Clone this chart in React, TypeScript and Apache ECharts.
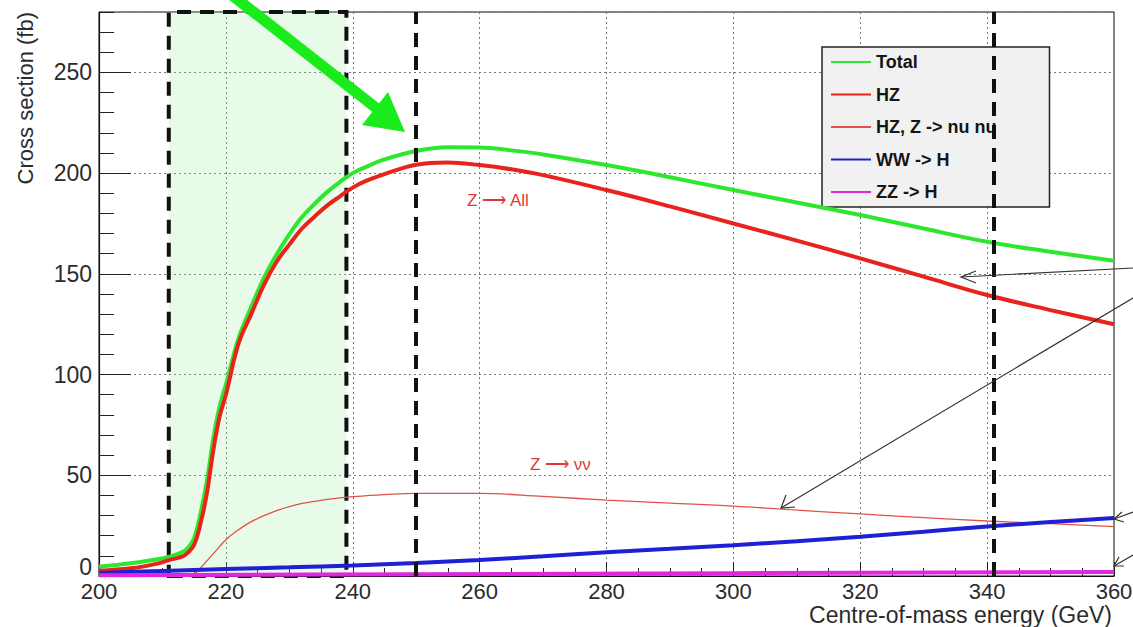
import { useEffect, useRef } from 'react';
import * as echarts from 'echarts';

// Centre-of-mass energy grid (GeV) for the total and HZ curves
const energy = [
  200, 205, 209, 211, 213, 214, 215, 216, 217, 218, 219, 220,
  222, 224, 226, 228, 230, 232, 234, 236, 238, 240,
  242, 245, 250, 255, 260, 265, 270,
  280, 290, 300, 310, 320, 330, 340, 350, 360,
];
// Cross sections in fb
const totalXsec = [
  4.6, 6.3, 8.2, 9.5, 11.6, 13.9, 18.8, 31, 47, 68, 84, 95,
  118, 133.6, 148, 159.6, 169.6, 178.2, 184.8, 190.7, 195.7, 200,
  203, 206.8, 211, 212.8, 212.7, 211.3, 209.3,
  204, 198, 191.6, 185.4, 179.2, 172.5, 165.9, 161, 156.5,
];
const hzXsec = [
  2.6, 3.8, 6, 7.9, 9.5, 11.5, 15.5, 26, 41, 62, 79, 90,
  115.5, 130, 144.5, 156, 164.5, 172.5, 178.5, 184, 188.5, 192.8,
  196, 199.5, 204.2, 205.3, 204, 201.9, 199,
  191.6, 183.5, 175, 166.5, 157.7, 148.6, 139.5, 132, 125,
];
const nunuEnergy = [
  215, 216, 218, 220, 222, 224, 226, 228, 230, 232,
  234, 236, 238, 240, 245, 250, 260, 270, 280, 290,
  300, 310, 320, 330, 340, 350, 360,
];
const nunuXsec = [
  0.5, 4, 11, 18, 23, 27, 30, 32.5, 34.5, 36,
  37, 38, 38.8, 39.4, 40.4, 41, 41, 39.5, 37.7, 36.2,
  34.7, 32.7, 30.8, 29, 27.3, 26, 24.5,
];
const wwEnergy = [200, 210, 220, 230, 240, 250, 260, 270, 280, 290, 300, 310, 320, 330, 340, 350, 360];
const wwXsec = [1.5, 2.5, 3.5, 4.3, 5.2, 6.5, 8, 9.8, 11.8, 13.5, 15.3, 17.3, 19.5, 22, 24.6, 26.8, 28.8];
const zzEnergy = [200, 250, 300, 360];
const zzXsec = [0.4, 0.9, 1.4, 2];

// Shaded scan window and reference energies
const windowRange = [211, 239];
const markerEnergies = [250, 341];

const legendNames = ['Total', 'HZ', 'HZ, Z -> nu nu', 'WW -> H', 'ZZ -> H'];

const pairs = (xs: number[], ys: number[]) => xs.map((x, i) => [x, ys[i]]);

const FONT = '"Liberation Sans", Arial, Helvetica, sans-serif';
const dash = [14, 9];

export default function App() {
  const ref = useRef<HTMLDivElement>(null);

  useEffect(() => {
    if (!ref.current) return;
    const chart = echarts.init(ref.current, null, { renderer: 'svg' });

    const lineSeries = (name: string, data: number[][], color: string, width: number, extra: any = {}) => ({
      name,
      type: 'line',
      data,
      showSymbol: false,
      symbol: 'none',
      smooth: 0.4,
      color,
      lineStyle: { color, width },
      z: 3,
      ...extra,
    });

    const arrow = (points: number[][]) => ({
      type: 'polyline',
      z: 100,
      shape: { points },
      style: { stroke: '#333', lineWidth: 1.2, fill: null },
    });

    chart.setOption({
      animation: false,
      backgroundColor: '#ffffff',
      grid: {
        left: 99,
        right: 19,
        top: 12,
        bottom: 51,
        outerBoundsMode: 'none',
        containLabel: false,
        show: true,
        borderColor: '#111',
        borderWidth: 1,
        backgroundColor: 'transparent',
      },
      legend: {
        data: legendNames,
        orient: 'vertical',
        left: 822,
        top: 47,
        z: 1,
        itemWidth: 40,
        itemHeight: 14,
        itemGap: 14.5,
        padding: [6, 53, 6, 8],
        backgroundColor: '#f1f1f1',
        borderColor: '#222',
        borderWidth: 1.5,
        borderRadius: 0,
        selectedMode: false,
        itemStyle: { opacity: 0 },
        textStyle: { fontFamily: FONT, fontSize: 18, fontWeight: 'bold', color: '#151515' },
      },
      xAxis: {
        type: 'value',
        min: 200,
        max: 360,
        interval: 20,
        axisLine: { show: true, lineStyle: { color: '#111', width: 1.2 } },
        axisTick: { show: true, inside: true, length: 14, lineStyle: { color: '#222' } },
        minorTick: { show: true, splitNumber: 4, length: 8, lineStyle: { color: '#222' } },
        axisLabel: { fontFamily: FONT, fontSize: 22, color: '#2b2b2b', margin: 4 },
        splitLine: { show: true, lineStyle: { color: '#777', type: [2, 3], width: 1 } },
      },
      yAxis: [
        {
          type: 'value',
          min: 0,
          max: 280,
          interval: 50,
          axisLine: { show: true, lineStyle: { color: '#111', width: 1.2 } },
          axisTick: { show: true, inside: true, length: 32, lineStyle: { color: '#222' } },
          axisLabel: {
            fontFamily: FONT,
            fontSize: 23,
            color: '#2b2b2b',
            margin: 7,
            showMaxLabel: false,
            formatter: (v: number) => (v === 0 ? '{zero|0}' : String(v)),
            rich: { zero: { fontFamily: FONT, fontSize: 23, color: '#2b2b2b', padding: [0, 0, 18, 0] } },
          },
          splitLine: { show: true, lineStyle: { color: '#777', type: [2, 3], width: 1 } },
        },
        {
          type: 'value',
          position: 'left',
          min: 0,
          max: 280,
          interval: 10,
          axisLine: { show: false },
          axisTick: { show: true, inside: true, length: 15, lineStyle: { color: '#222' } },
          axisLabel: { show: false },
          splitLine: { show: false },
        },
      ],
      series: [
        lineSeries('Total', pairs(energy, totalXsec), '#2fe62f', 4, {
          markArea: {
            silent: true,
            itemStyle: {
              color: 'rgba(150, 235, 150, 0.22)',
              borderColor: '#111',
              borderWidth: 4,
              borderType: dash,
            },
            data: [[{ xAxis: windowRange[0], yAxis: 0 }, { xAxis: windowRange[1], yAxis: 280 }]],
          },
          markLine: {
            silent: true,
            symbol: 'none',
            label: { show: false },
            lineStyle: { color: '#111', width: 4, type: dash },
            data: markerEnergies.map((e) => ({ xAxis: e })),
            z: 10,
          },
        }),
        lineSeries('HZ', pairs(energy, hzXsec), '#e8231c', 4),
        lineSeries('HZ, Z -> nu nu', pairs(nunuEnergy, nunuXsec), '#e0524a', 1.3),
        lineSeries('WW -> H', pairs(wwEnergy, wwXsec), '#1f1fd6', 4),
        lineSeries('ZZ -> H', pairs(zzEnergy, zzXsec), '#e026e0', 4),
      ],
      graphic: [
        {
          type: 'text',
          x: 25,
          y: 12,
          rotation: Math.PI / 2,
          style: {
            text: 'Cross section (fb)',
            font: `22px ${FONT}`,
            fill: '#2b2b2b',
            align: 'right',
            verticalAlign: 'middle',
          },
        },
        {
          type: 'text',
          x: 1112,
          y: 615,
          style: {
            text: 'Centre-of-mass energy (GeV)',
            font: `23px ${FONT}`,
            fill: '#2b2b2b',
            align: 'right',
            verticalAlign: 'middle',
          },
        },
        {
          type: 'text',
          x: 467,
          y: 200,
          style: { text: 'Z ⟶ All', font: `17px ${FONT}`, fill: '#e03a3a', verticalAlign: 'middle' },
        },
        {
          type: 'text',
          x: 530,
          y: 464,
          style: { text: 'Z ⟶ νν', font: `17px ${FONT}`, fill: '#e03a3a', verticalAlign: 'middle' },
        },
        // green pointer arrow
        {
          type: 'line',
          z: 100,
          shape: { x1: 228, y1: -8, x2: 380, y2: 111 },
          style: { stroke: '#1aeb1a', lineWidth: 11 },
        },
        {
          type: 'polygon',
          z: 100,
          shape: { points: [[362, 125], [388, 92], [405, 132]] },
          style: { fill: '#1aeb1a' },
        },
        // thin black callout arrows
        arrow([[1133, 268], [961, 277]]),
        arrow([[976, 271], [961, 277], [976, 283]]),
        arrow([[1133, 298], [781, 508]]),
        arrow([[786, 495], [781, 508], [795, 507]]),
        arrow([[1133, 512], [1114, 519]]),
        arrow([[1122, 512], [1114, 519], [1124, 522]]),
        arrow([[1133, 555], [1114, 566]]),
        arrow([[1119, 557], [1114, 566], [1124, 566]]),
      ],
    });

    return () => chart.dispose();
  }, []);

  return <div ref={ref} style={{ width: 1133, height: 627, position: 'absolute', left: 0, top: 0 }} />;
}
